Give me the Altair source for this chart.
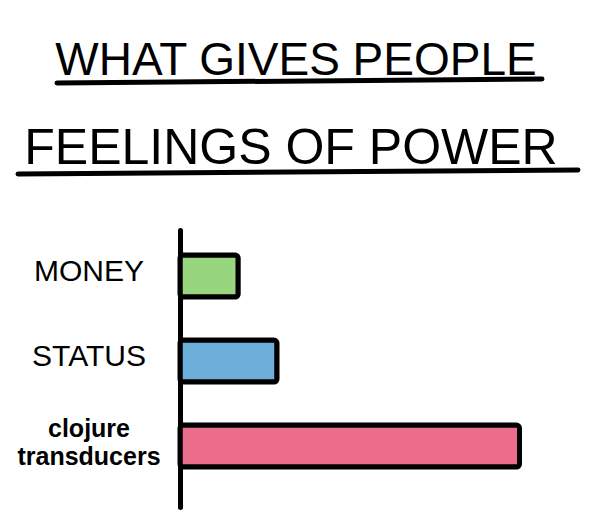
import altair as alt
import pandas as pd

categories = ["MONEY", "STATUS", "clojure transducers"]
values = [6, 10, 35]
colors = ["#98D57F", "#6CAED9", "#EC6C8B"]
label_lines = ["MONEY", "STATUS", "clojure\ntransducers"]
title_lines = ["WHAT GIVES PEOPLE", "FEELINGS OF POWER"]

bars_df = pd.DataFrame({"category": categories, "value": values, "color": colors})
labels_df = pd.DataFrame({"category": categories, "label": label_lines})

y_scale = alt.Scale(domain=categories, paddingInner=0.506, paddingOuter=0.3825, align=0.385)
y_axis = alt.Axis(labels=False, ticks=False, title=None, domain=True, domainColor="black",
                  domainWidth=5, domainCap="round", grid=False)
y_enc = alt.Y("category:N", sort=categories, scale=y_scale, axis=y_axis)

bars = alt.Chart(bars_df).mark_bar(stroke="black", strokeWidth=5, strokeJoin="round",
                                   cornerRadius=3).encode(
    x=alt.X("value:Q", scale=alt.Scale(domain=[0, 40]), axis=None),
    y=y_enc,
    fill=alt.Fill("color:N", scale=None),
)

hand = "Liberation Sans"

hand_labels = alt.Chart(labels_df).transform_filter(
    alt.datum.category != "clojure transducers"
).mark_text(font=hand, fontSize=30, align="center", baseline="alphabetic", dy=5,
            color="black").encode(
    x=alt.value(-91), y=y_enc, text="label:N")

bold_labels = alt.Chart(labels_df).transform_filter(
    alt.datum.category == "clojure transducers"
).mark_text(font="Liberation Sans", fontSize=25, fontWeight="bold", align="center",
            baseline="alphabetic", dy=-9, lineBreak="\n", lineHeight=28,
            color="black").encode(
    x=alt.value(-91), y=y_enc, text="label:N")

t1 = alt.Chart(pd.DataFrame({"t": [title_lines[0]]})).mark_text(
    font=hand, fontSize=46, align="center", baseline="alphabetic", color="black"
).encode(x=alt.value(116), y=alt.value(-155), text="t:N")

t2 = alt.Chart(pd.DataFrame({"t": [title_lines[1]]})).mark_text(
    font=hand, fontSize=50, align="center", baseline="alphabetic", color="black"
).encode(x=alt.value(111), y=alt.value(-66), text="t:N")

u1 = alt.Chart(pd.DataFrame({"a": [0]})).mark_rule(
    color="black", strokeWidth=5, strokeCap="round"
).encode(x=alt.value(-123), x2=alt.value(362), y=alt.value(-147), y2=alt.value(-151))

u2 = alt.Chart(pd.DataFrame({"a": [0]})).mark_rule(
    color="black", strokeWidth=5, strokeCap="round"
).encode(x=alt.value(-162), x2=alt.value(398), y=alt.value(-56), y2=alt.value(-60))

chart = alt.layer(bars, hand_labels, bold_labels, t1, t2, u1, u2).properties(
    width=388, height=277,
    autosize=alt.AutoSizeParams(type="none"),
    padding={"left": 172, "top": 222, "right": 20, "bottom": 15},
    background="white",
).configure_view(stroke=None)

chart.save("out.html", embed_options={"renderer": "svg", "actions": False})
